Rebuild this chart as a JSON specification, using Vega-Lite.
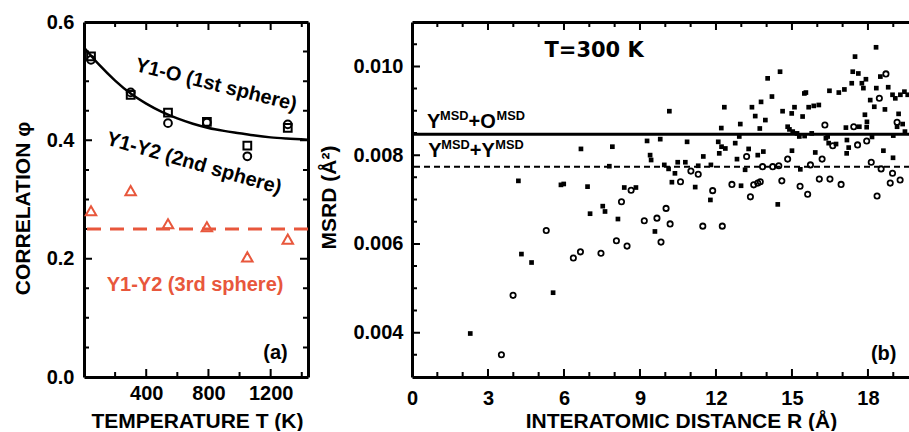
{
  "$schema": "https://vega.github.io/schema/vega-lite/v6.json",
  "padding": {"left": 12, "top": 12, "right": 0, "bottom": 0},
  "config": {
    "view": {"stroke": null},
    "font": "Liberation Sans",
    "axis": {"domainColor": "#000", "domainWidth": 3, "tickColor": "#000", "tickWidth": 2, "tickOpacity": 0, "grid": false, "labelFont": "Liberation Sans", "labelFontWeight": "bold", "labelFontSize": 20, "labelColor": "#000", "titleFont": "Liberation Sans", "titleFontWeight": "bold", "titleFontSize": 21, "titleColor": "#000", "labelFlush": false, "labelOverlap": false},
    "text": {"font": "Liberation Sans", "fontWeight": "bold", "fontSize": 20, "color": "#000"}
  },
  "datasets": {
    "circL": [{"T": 45, "phi": 0.536}, {"T": 300, "phi": 0.481}, {"T": 540, "phi": 0.429}, {"T": 790, "phi": 0.43}, {"T": 1050, "phi": 0.373}, {"T": 1310, "phi": 0.427}],
    "sqL": [{"T": 45, "phi": 0.542}, {"T": 300, "phi": 0.477}, {"T": 540, "phi": 0.447}, {"T": 790, "phi": 0.431}, {"T": 1050, "phi": 0.391}, {"T": 1310, "phi": 0.421}],
    "triL": [{"T": 45, "phi": 0.281}, {"T": 300, "phi": 0.315}, {"T": 540, "phi": 0.259}, {"T": 790, "phi": 0.254}, {"T": 1050, "phi": 0.203}, {"T": 1310, "phi": 0.233}],
    "fitL": [{"T": 0, "phi": 0.557}, {"T": 100, "phi": 0.527}, {"T": 200, "phi": 0.501}, {"T": 300, "phi": 0.479}, {"T": 400, "phi": 0.462}, {"T": 500, "phi": 0.448}, {"T": 600, "phi": 0.437}, {"T": 700, "phi": 0.428}, {"T": 800, "phi": 0.421}, {"T": 900, "phi": 0.416}, {"T": 1000, "phi": 0.412}, {"T": 1100, "phi": 0.408}, {"T": 1200, "phi": 0.405}, {"T": 1300, "phi": 0.403}, {"T": 1440, "phi": 0.401}],
    "avgL": [{"phi": 0.25}],
    "tickXmajL": [{"T": 400}, {"T": 800}, {"T": 1200}],
    "tickXminL": [{"T": 200}, {"T": 600}, {"T": 1000}, {"T": 1400}],
    "tickYmajL": [{"phi": 0.2}, {"phi": 0.4}],
    "tickYminL": [{"phi": 0.05}, {"phi": 0.1}, {"phi": 0.15}, {"phi": 0.25}, {"phi": 0.3}, {"phi": 0.35}, {"phi": 0.45}, {"phi": 0.5}, {"phi": 0.55}],
    "tickXmajR": [{"R": 3}, {"R": 6}, {"R": 9}, {"R": 12}, {"R": 15}, {"R": 18}],
    "tickXminR": [{"R": 1}, {"R": 2}, {"R": 4}, {"R": 5}, {"R": 7}, {"R": 8}, {"R": 10}, {"R": 11}, {"R": 13}, {"R": 14}, {"R": 16}, {"R": 17}, {"R": 19}],
    "tickYmajR": [{"v": 0.004}, {"v": 0.006}, {"v": 0.008}, {"v": 0.01}],
    "tickYminR": [{"v": 0.0035}, {"v": 0.0045}, {"v": 0.005}, {"v": 0.0055}, {"v": 0.0065}, {"v": 0.007}, {"v": 0.0075}, {"v": 0.0085}, {"v": 0.009}, {"v": 0.0095}, {"v": 0.0105}],
    "sqR": [
      {"R": 2.3, "v": 0.00398}, {"R": 4.2, "v": 0.00742}, {"R": 4.32, "v": 0.00577}, {"R": 4.72, "v": 0.00558}, {"R": 5.57, "v": 0.0049},
      {"R": 5.88, "v": 0.00733}, {"R": 5.99, "v": 0.00735}, {"R": 6.67, "v": 0.00814}, {"R": 6.93, "v": 0.00729}, {"R": 7.03, "v": 0.00668},
      {"R": 7.53, "v": 0.00685}, {"R": 7.62, "v": 0.00673}, {"R": 7.79, "v": 0.00775}, {"R": 7.91, "v": 0.00819}, {"R": 8.13, "v": 0.00656},
      {"R": 8.38, "v": 0.00727}, {"R": 8.84, "v": 0.00727}, {"R": 9.28, "v": 0.00832}, {"R": 9.4, "v": 0.008}, {"R": 9.44, "v": 0.00789},
      {"R": 9.59, "v": 0.00628}, {"R": 9.8, "v": 0.00836}, {"R": 9.96, "v": 0.00778}, {"R": 10.13, "v": 0.00769}, {"R": 10.16, "v": 0.00899},
      {"R": 10.26, "v": 0.00739}, {"R": 10.38, "v": 0.00759}, {"R": 10.49, "v": 0.00784}, {"R": 10.79, "v": 0.00784}, {"R": 10.86, "v": 0.0083},
      {"R": 11.18, "v": 0.00728}, {"R": 11.3, "v": 0.00776}, {"R": 11.5, "v": 0.00797}, {"R": 11.78, "v": 0.00699}, {"R": 11.8, "v": 0.00778},
      {"R": 12.09, "v": 0.0083}, {"R": 12.13, "v": 0.00804}, {"R": 12.21, "v": 0.00861}, {"R": 12.22, "v": 0.00819}, {"R": 12.33, "v": 0.00908},
      {"R": 12.37, "v": 0.00815}, {"R": 12.76, "v": 0.00827}, {"R": 12.83, "v": 0.00791}, {"R": 12.92, "v": 0.00842}, {"R": 12.96, "v": 0.0087},
      {"R": 12.99, "v": 0.00731}, {"R": 13.15, "v": 0.00767}, {"R": 13.29, "v": 0.00814}, {"R": 13.42, "v": 0.00908}, {"R": 13.55, "v": 0.00888},
      {"R": 13.65, "v": 0.008}, {"R": 13.73, "v": 0.0086}, {"R": 13.78, "v": 0.0092}, {"R": 13.87, "v": 0.00808}, {"R": 13.95, "v": 0.00879},
      {"R": 14.04, "v": 0.00973}, {"R": 14.21, "v": 0.00932}, {"R": 14.44, "v": 0.00689}, {"R": 14.53, "v": 0.00988}, {"R": 14.63, "v": 0.00899},
      {"R": 14.83, "v": 0.00864}, {"R": 14.9, "v": 0.00858}, {"R": 14.99, "v": 0.00894}, {"R": 15.0, "v": 0.0081}, {"R": 15.03, "v": 0.00853},
      {"R": 15.1, "v": 0.00908}, {"R": 15.2, "v": 0.00849}, {"R": 15.29, "v": 0.00842}, {"R": 15.33, "v": 0.00768}, {"R": 15.42, "v": 0.00887},
      {"R": 15.49, "v": 0.00939}, {"R": 15.55, "v": 0.00941}, {"R": 15.5, "v": 0.00843}, {"R": 15.66, "v": 0.00908}, {"R": 15.78, "v": 0.00849},
      {"R": 15.86, "v": 0.00911}, {"R": 15.92, "v": 0.00806}, {"R": 16.06, "v": 0.00913}, {"R": 16.34, "v": 0.00838}, {"R": 16.41, "v": 0.00842},
      {"R": 16.45, "v": 0.00827}, {"R": 16.48, "v": 0.00945}, {"R": 16.74, "v": 0.00825}, {"R": 16.85, "v": 0.00941}, {"R": 17.07, "v": 0.00948},
      {"R": 17.13, "v": 0.00862}, {"R": 17.17, "v": 0.00834}, {"R": 17.24, "v": 0.00817}, {"R": 17.16, "v": 0.00804}, {"R": 17.36, "v": 0.00962},
      {"R": 17.4, "v": 0.00988}, {"R": 17.49, "v": 0.01022}, {"R": 17.62, "v": 0.00984}, {"R": 17.66, "v": 0.00864}, {"R": 17.76, "v": 0.00962},
      {"R": 17.82, "v": 0.00951}, {"R": 17.88, "v": 0.00891}, {"R": 17.92, "v": 0.00971}, {"R": 17.95, "v": 0.00863}, {"R": 17.96, "v": 0.00875},
      {"R": 18.09, "v": 0.00924}, {"R": 18.16, "v": 0.00841}, {"R": 18.25, "v": 0.00909}, {"R": 18.32, "v": 0.01043}, {"R": 18.33, "v": 0.00951},
      {"R": 18.49, "v": 0.00977}, {"R": 18.61, "v": 0.0081}, {"R": 18.67, "v": 0.00903}, {"R": 18.8, "v": 0.00953}, {"R": 18.97, "v": 0.00936},
      {"R": 18.99, "v": 0.00794}, {"R": 19.0, "v": 0.00844}, {"R": 19.08, "v": 0.00928}, {"R": 19.15, "v": 0.00864}, {"R": 19.21, "v": 0.00893},
      {"R": 19.28, "v": 0.00936}, {"R": 19.37, "v": 0.0087}, {"R": 19.44, "v": 0.00943}, {"R": 19.46, "v": 0.00853}, {"R": 19.57, "v": 0.00936}
    ],
    "circR": [
      {"R": 3.53, "v": 0.0035}, {"R": 3.99, "v": 0.00484}, {"R": 5.3, "v": 0.0063}, {"R": 6.37, "v": 0.00568}, {"R": 6.65, "v": 0.00582},
      {"R": 7.46, "v": 0.00579}, {"R": 8.07, "v": 0.00607}, {"R": 8.27, "v": 0.00695}, {"R": 8.49, "v": 0.00595}, {"R": 8.65, "v": 0.00721},
      {"R": 9.17, "v": 0.00652}, {"R": 9.67, "v": 0.00658}, {"R": 9.83, "v": 0.00604}, {"R": 10.03, "v": 0.0068}, {"R": 10.19, "v": 0.00645},
      {"R": 10.6, "v": 0.0074}, {"R": 11.01, "v": 0.00764}, {"R": 11.3, "v": 0.00757}, {"R": 11.48, "v": 0.0064}, {"R": 11.87, "v": 0.0072},
      {"R": 12.25, "v": 0.0064}, {"R": 12.63, "v": 0.00734}, {"R": 13.21, "v": 0.00797}, {"R": 13.36, "v": 0.00706}, {"R": 13.49, "v": 0.00733},
      {"R": 13.65, "v": 0.00737}, {"R": 13.75, "v": 0.0074}, {"R": 13.84, "v": 0.00774}, {"R": 14.24, "v": 0.00774}, {"R": 14.48, "v": 0.00776},
      {"R": 14.6, "v": 0.00742}, {"R": 14.83, "v": 0.00791}, {"R": 15.32, "v": 0.0073}, {"R": 15.62, "v": 0.00712}, {"R": 15.73, "v": 0.00778},
      {"R": 16.08, "v": 0.00746}, {"R": 16.19, "v": 0.00791}, {"R": 16.3, "v": 0.00868}, {"R": 16.5, "v": 0.00746}, {"R": 16.61, "v": 0.00821},
      {"R": 16.94, "v": 0.00734}, {"R": 17.44, "v": 0.00864}, {"R": 17.59, "v": 0.00823}, {"R": 17.95, "v": 0.00832}, {"R": 18.13, "v": 0.00784},
      {"R": 18.36, "v": 0.00708}, {"R": 18.45, "v": 0.00928}, {"R": 18.52, "v": 0.00769}, {"R": 18.71, "v": 0.00983}, {"R": 18.88, "v": 0.00737},
      {"R": 18.97, "v": 0.00759}, {"R": 19.15, "v": 0.00874}, {"R": 19.27, "v": 0.00744}
    ]
  },
  "hconcat": [
    {
      "width": 224,
      "height": 355,
      "layer": [
        {
          "data": {"name": "tickXmajL"},
          "mark": {"type": "rule", "color": "#000", "strokeWidth": 2, "strokeDash": [8, 339, 8, 1000]},
          "encoding": {"x": {"field": "T", "type": "quantitative", "scale": {"domain": [0, 1440], "nice": false}, "axis": null}}
        },
        {
          "data": {"name": "tickXminL"},
          "mark": {"type": "rule", "color": "#000", "strokeWidth": 2, "strokeDash": [5, 345, 5, 1000]},
          "encoding": {"x": {"field": "T", "type": "quantitative", "scale": {"domain": [0, 1440], "nice": false}, "axis": null}}
        },
        {
          "data": {"name": "tickYmajL"},
          "mark": {"type": "rule", "color": "#000", "strokeWidth": 2, "strokeDash": [8, 208, 8, 1000]},
          "encoding": {"y": {"field": "phi", "type": "quantitative", "scale": {"domain": [0, 0.6], "nice": false}, "axis": null}}
        },
        {
          "data": {"name": "tickYminL"},
          "mark": {"type": "rule", "color": "#000", "strokeWidth": 2, "strokeDash": [5, 214, 5, 1000]},
          "encoding": {"y": {"field": "phi", "type": "quantitative", "scale": {"domain": [0, 0.6], "nice": false}, "axis": null}}
        },
        {
          "data": {"name": "fitL"},
          "mark": {"type": "line", "color": "#000", "strokeWidth": 2.5, "interpolate": "monotone"},
          "encoding": {
            "x": {"field": "T", "type": "quantitative", "scale": {"domain": [0, 1440], "nice": false}, "axis": null},
            "y": {"field": "phi", "type": "quantitative", "scale": {"domain": [0, 0.6], "nice": false}, "axis": null}
          }
        },
        {
          "data": {"name": "avgL"},
          "mark": {"type": "rule", "color": "#E8573C", "strokeWidth": 3, "strokeDash": [14, 9]},
          "encoding": {
            "y": {"field": "phi", "type": "quantitative", "scale": {"domain": [0, 0.6], "nice": false}, "axis": null}
          }
        },
        {
          "data": {"name": "circL"},
          "mark": {"type": "point", "shape": "circle", "filled": false, "color": "#000", "strokeWidth": 2, "size": 60, "opacity": 1},
          "encoding": {
            "x": {"field": "T", "type": "quantitative", "scale": {"domain": [0, 1440], "nice": false},
              "axis": {"orient": "bottom", "values": [400, 800, 1200], "format": "d", "tickSize": -7,
                "labelPadding": 13, "title": "TEMPERATURE T (K)", "titleX": 113, "titleY": 44, "titleBaseline": "middle", "titleAlign": "center"}},
            "y": {"field": "phi", "type": "quantitative", "scale": {"domain": [0, 0.6], "nice": false},
              "axis": {"orient": "left", "values": [0, 0.2, 0.4, 0.6], "format": ".1f", "tickSize": -7,
                "labelPadding": 17, "title": "CORRELATION φ", "titleX": -61, "titleY": 186, "titleBaseline": "middle", "titleAlign": "center"}}
          }
        },
        {
          "data": {"name": "sqL"},
          "mark": {"type": "point", "shape": "square", "filled": false, "color": "#000", "strokeWidth": 2, "size": 60, "opacity": 1},
          "encoding": {
            "x": {"field": "T", "type": "quantitative", "scale": {"domain": [0, 1440], "nice": false},
              "axis": {"orient": "top", "values": [400, 800, 1200], "labels": false, "title": null, "tickSize": -4}},
            "y": {"field": "phi", "type": "quantitative", "scale": {"domain": [0, 0.6], "nice": false},
              "axis": {"orient": "right", "values": [0.2, 0.4], "labels": false, "title": null, "tickSize": -4}}
          }
        },
        {
          "data": {"name": "triL"},
          "mark": {"type": "point", "shape": "triangle-up", "filled": false, "color": "#E8573C", "strokeWidth": 2, "size": 110, "opacity": 1},
          "encoding": {
            "x": {"field": "T", "type": "quantitative", "scale": {"domain": [0, 1440], "nice": false}, "axis": null},
            "y": {"field": "phi", "type": "quantitative", "scale": {"domain": [0, 0.6], "nice": false}, "axis": null}
          }
        },
        {
          "data": {"values": [{"T": 849, "phi": 0.4935, "label": "Y1-O (1st sphere)"}]},
          "mark": {"type": "text", "angle": 14, "align": "center", "baseline": "middle"},
          "encoding": {
            "x": {"field": "T", "type": "quantitative", "axis": null},
            "y": {"field": "phi", "type": "quantitative", "axis": null},
            "text": {"field": "label"}
          }
        },
        {
          "data": {"values": [{"T": 707, "phi": 0.361, "label": "Y1-Y2 (2nd sphere)"}]},
          "mark": {"type": "text", "angle": 16, "align": "center", "baseline": "middle"},
          "encoding": {
            "x": {"field": "T", "type": "quantitative", "axis": null},
            "y": {"field": "phi", "type": "quantitative", "axis": null},
            "text": {"field": "label"}
          }
        },
        {
          "data": {"values": [{"T": 714, "phi": 0.1555, "label": "Y1-Y2 (3rd sphere)"}]},
          "mark": {"type": "text", "align": "center", "baseline": "middle", "color": "#E8573C"},
          "encoding": {
            "x": {"field": "T", "type": "quantitative", "axis": null},
            "y": {"field": "phi", "type": "quantitative", "axis": null},
            "text": {"field": "label"}
          }
        },
        {
          "data": {"values": [{"T": 1231, "phi": 0.0406, "label": "(a)"}]},
          "mark": {"type": "text", "align": "center", "baseline": "middle"},
          "encoding": {
            "x": {"field": "T", "type": "quantitative", "axis": null},
            "y": {"field": "phi", "type": "quantitative", "axis": null},
            "text": {"field": "label"}
          }
        }
      ],
      "resolve": {"axis": {"x": "independent", "y": "independent"}}
    },
    {
      "width": 498,
      "height": 355,
      "layer": [
        {
          "data": {"name": "tickXmajR"},
          "mark": {"type": "rule", "color": "#000", "strokeWidth": 2, "strokeDash": [8, 339, 8, 1000]},
          "encoding": {"x": {"field": "R", "type": "quantitative", "scale": {"domain": [0, 19.66], "nice": false}, "axis": null}}
        },
        {
          "data": {"name": "tickXminR"},
          "mark": {"type": "rule", "color": "#000", "strokeWidth": 2, "strokeDash": [5, 345, 5, 1000]},
          "encoding": {"x": {"field": "R", "type": "quantitative", "scale": {"domain": [0, 19.66], "nice": false}, "axis": null}}
        },
        {
          "data": {"name": "tickYmajR"},
          "mark": {"type": "rule", "color": "#000", "strokeWidth": 2, "strokeDash": [0, 490, 8, 1000]},
          "encoding": {"y": {"field": "v", "type": "quantitative", "scale": {"domain": [0.003, 0.011], "nice": false}, "axis": null}}
        },
        {
          "data": {"name": "tickYminR"},
          "mark": {"type": "rule", "color": "#000", "strokeWidth": 2, "strokeDash": [0, 493, 5, 1000]},
          "encoding": {"y": {"field": "v", "type": "quantitative", "scale": {"domain": [0.003, 0.011], "nice": false}, "axis": null}}
        },
        {
          "data": {"values": [{"v": 0.00847}]},
          "mark": {"type": "rule", "color": "#000", "strokeWidth": 3},
          "encoding": {
            "y": {"field": "v", "type": "quantitative", "scale": {"domain": [0.003, 0.011], "nice": false}, "axis": null}
          }
        },
        {
          "data": {"values": [{"v": 0.00774}]},
          "mark": {"type": "rule", "color": "#000", "strokeWidth": 2, "strokeDash": [6, 4]},
          "encoding": {
            "y": {"field": "v", "type": "quantitative", "scale": {"domain": [0.003, 0.011], "nice": false}, "axis": null}
          }
        },
        {
          "data": {"name": "sqR"},
          "mark": {"type": "point", "shape": "square", "filled": true, "color": "#000", "size": 22, "opacity": 1, "clip": true},
          "encoding": {
            "x": {"field": "R", "type": "quantitative", "scale": {"domain": [0, 19.66], "nice": false},
              "axis": {"orient": "bottom", "values": [0, 3, 6, 9, 12, 15, 18], "format": "d", "tickSize": -7,
                "labelPadding": 18, "title": "INTERATOMIC DISTANCE R (Å)", "titleX": 269, "titleY": 44, "titleBaseline": "middle", "titleAlign": "center"}},
            "y": {"field": "v", "type": "quantitative", "scale": {"domain": [0.003, 0.011], "nice": false},
              "axis": {"orient": "left", "values": [0.004, 0.006, 0.008, 0.01], "format": ".3f", "tickSize": -7,
                "labelPadding": 16, "title": "MSRD (Å²)", "titleX": -83, "titleY": 175, "titleBaseline": "middle", "titleAlign": "center"}}
          }
        },
        {
          "data": {"name": "circR"},
          "mark": {"type": "point", "shape": "circle", "filled": false, "color": "#000", "strokeWidth": 1.8, "size": 28, "opacity": 1, "clip": true},
          "encoding": {
            "x": {"field": "R", "type": "quantitative", "scale": {"domain": [0, 19.66], "nice": false},
              "axis": {"orient": "top", "values": [3, 6, 9, 12, 15, 18], "labels": false, "title": null, "tickSize": -4}},
            "y": {"field": "v", "type": "quantitative", "scale": {"domain": [0.003, 0.011], "nice": false}, "axis": null}
          }
        },
        {
          "data": {"values": [{"R": 7.19, "v": 0.010346, "label": "T=300 K"}]},
          "mark": {"type": "text", "align": "center", "baseline": "middle", "font": "DejaVu Sans", "fontSize": 21},
          "encoding": {
            "x": {"field": "R", "type": "quantitative", "axis": null},
            "y": {"field": "v", "type": "quantitative", "axis": null},
            "text": {"field": "label"}
          }
        },
        {
          "data": {"values": [{"R": 18.62, "v": 0.003518, "label": "(b)"}]},
          "mark": {"type": "text", "align": "center", "baseline": "middle"},
          "encoding": {
            "x": {"field": "R", "type": "quantitative", "axis": null},
            "y": {"field": "v", "type": "quantitative", "axis": null},
            "text": {"field": "label"}
          }
        },
        {
          "data": {"values": [{"R": 0.592, "v": 0.008605, "label": "Y"}, {"R": 0.643, "v": 0.007951, "label": "Y"}]},
          "mark": {"type": "text", "align": "left", "baseline": "alphabetic"},
          "encoding": {
            "x": {"field": "R", "type": "quantitative", "axis": null},
            "y": {"field": "v", "type": "quantitative", "axis": null},
            "text": {"field": "label"}
          }
        },
        {
          "data": {"values": [{"R": 0.592, "v": 0.008605, "label": "MSD"}, {"R": 0.643, "v": 0.007951, "label": "MSD"}]},
          "mark": {"type": "text", "align": "left", "baseline": "alphabetic", "fontSize": 12.8, "dx": 13, "dy": -8},
          "encoding": {
            "x": {"field": "R", "type": "quantitative", "axis": null},
            "y": {"field": "v", "type": "quantitative", "axis": null},
            "text": {"field": "label"}
          }
        },
        {
          "data": {"values": [{"R": 0.592, "v": 0.008605, "label": "+O"}, {"R": 0.643, "v": 0.007951, "label": "+Y"}]},
          "mark": {"type": "text", "align": "left", "baseline": "alphabetic", "dx": 41.5},
          "encoding": {
            "x": {"field": "R", "type": "quantitative", "axis": null},
            "y": {"field": "v", "type": "quantitative", "axis": null},
            "text": {"field": "label"}
          }
        },
        {
          "data": {"values": [{"R": 0.592, "v": 0.008605, "label": "MSD"}]},
          "mark": {"type": "text", "align": "left", "baseline": "alphabetic", "fontSize": 12.8, "dx": 69.5, "dy": -8},
          "encoding": {
            "x": {"field": "R", "type": "quantitative", "axis": null},
            "y": {"field": "v", "type": "quantitative", "axis": null},
            "text": {"field": "label"}
          }
        },
        {
          "data": {"values": [{"R": 0.643, "v": 0.007951, "label": "MSD"}]},
          "mark": {"type": "text", "align": "left", "baseline": "alphabetic", "fontSize": 12.8, "dx": 67, "dy": -8},
          "encoding": {
            "x": {"field": "R", "type": "quantitative", "axis": null},
            "y": {"field": "v", "type": "quantitative", "axis": null},
            "text": {"field": "label"}
          }
        }
      ],
      "resolve": {"axis": {"x": "independent", "y": "independent"}}
    }
  ],
  "spacing": 104,
  "bounds": "flush"
}
